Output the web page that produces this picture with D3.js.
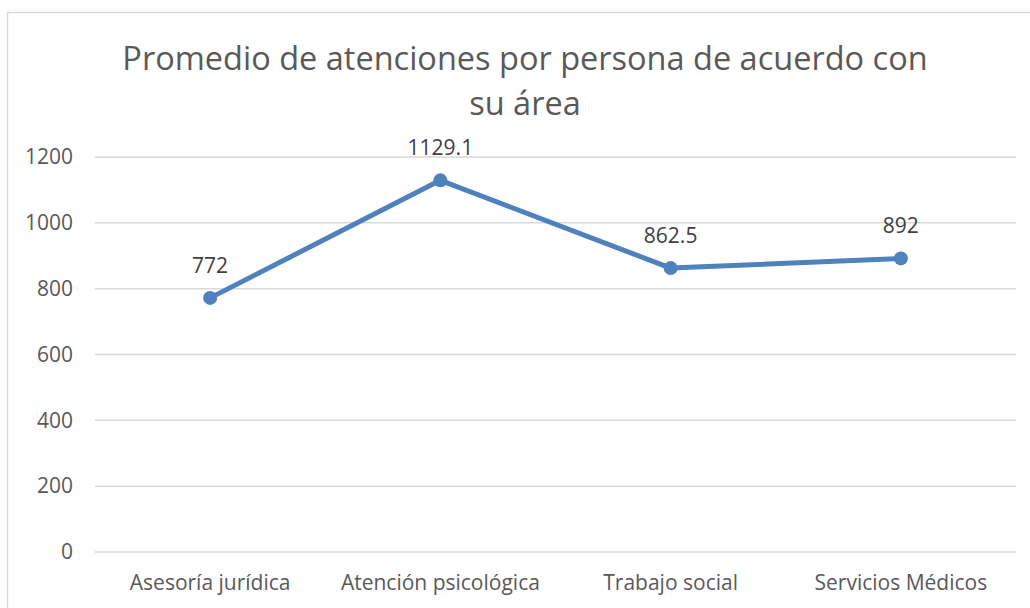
<!DOCTYPE html>
<html lang="es">
<head>
  <meta charset="UTF-8" />
  <title>Promedio de atenciones</title>
  <script src="https://d3js.org/d3.v7.min.js"></script>
  <style>
    body { margin: 0; background: #fff; }
    svg { display: block; font-family: "Open Sans", sans-serif; }
  </style>
</head>
<body>
  <svg width="1030" height="608" id="chart"></svg>
  <script>
    const categories = ["Asesoría jurídica", "Atención psicológica", "Trabajo social", "Servicios Médicos"];
    const values = [772, 1129.1, 862.5, 892];
    const valueLabels = ["772", "1129.1", "862.5", "892"];
    const yTicks = [0, 200, 400, 600, 800, 1000, 1200];
    const titleLines = ["Promedio de atenciones por persona de acuerdo con", "su área"];

    const svg = d3.select("#chart");
    const plotLeft = 95, plotRight = 1016, plotTop = 157, plotBottom = 552;
    const labelSize = 21;

    // chart border
    svg.append("rect")
      .attr("x", 7.5).attr("y", 12.5)
      .attr("width", 1040).attr("height", 620)
      .attr("fill", "none").attr("stroke", "#d9d9d9").attr("stroke-width", 1.5);

    const x = d3.scaleBand().domain(categories).range([plotLeft, plotRight]);
    const y = d3.scaleLinear().domain([0, 1200]).range([plotBottom, plotTop]);

    // gridlines
    svg.append("g").selectAll("line").data(yTicks).join("line")
      .attr("x1", plotLeft).attr("x2", plotRight)
      .attr("y1", d => y(d)).attr("y2", d => y(d))
      .attr("stroke", "#d9d9d9").attr("stroke-width", 1.5);

    // y axis labels
    const yAxis = svg.append("g")
      .attr("transform", `translate(${plotLeft - 22},0)`)
      .call(d3.axisLeft(y).tickValues(yTicks).tickFormat(d3.format("d")).tickSize(0).tickPadding(0));
    yAxis.select(".domain").remove();
    yAxis.selectAll("text")
      .attr("font-size", labelSize).attr("fill", "#595959").attr("font-family", "'Open Sans', sans-serif");

    // x axis labels
    const xAxis = svg.append("g")
      .attr("transform", `translate(0,${plotBottom})`)
      .call(d3.axisBottom(x).tickSize(0).tickPadding(23));
    xAxis.select(".domain").remove();
    xAxis.selectAll("text")
      .attr("font-size", labelSize).attr("fill", "#595959").attr("font-family", "'Open Sans', sans-serif");

    // title
    svg.append("text")
      .attr("text-anchor", "middle")
      .attr("font-size", 32.5).attr("fill", "#595959")
      .selectAll("tspan").data(titleLines).join("tspan")
      .attr("x", 525).attr("y", (d, i) => 70 + i * 45)
      .text(d => d);

    const pts = categories.map((c, i) => ({ c, v: values[i], label: valueLabels[i] }));
    const cx = d => x(d.c) + x.bandwidth() / 2;

    svg.append("path")
      .datum(pts)
      .attr("fill", "none")
      .attr("stroke", "#4f81bd")
      .attr("stroke-width", 5)
      .attr("stroke-linejoin", "round")
      .attr("d", d3.line().x(cx).y(d => y(d.v)));

    svg.append("g").selectAll("circle").data(pts).join("circle")
      .attr("cx", cx).attr("cy", d => y(d.v))
      .attr("r", 7).attr("fill", "#4f81bd");

    svg.append("g").selectAll("text").data(pts).join("text")
      .attr("x", cx).attr("y", d => y(d.v) - 25)
      .attr("text-anchor", "middle")
      .attr("font-size", labelSize).attr("fill", "#404040")
      .text(d => d.label);
  </script>
</body>
</html>
